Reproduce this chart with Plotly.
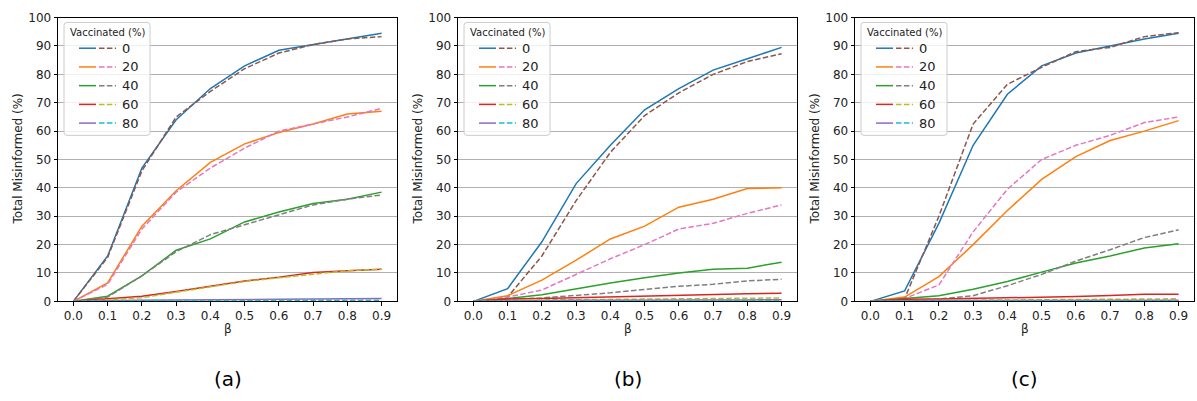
import plotly.graph_objects as go

beta = [0.0, 0.1, 0.2, 0.3, 0.4, 0.5, 0.6, 0.7, 0.8, 0.9]
beta_labels = ["0.0", "0.1", "0.2", "0.3", "0.4", "0.5", "0.6", "0.7", "0.8", "0.9"]
vaccinated = ["0", "20", "40", "60", "80"]
y_ticks = [0, 10, 20, 30, 40, 50, 60, 70, 80, 90, 100]
panel_labels = ["(a)", "(b)", "(c)"]

# Panel (a)
a_solid_0 = [0, 16, 47, 64, 75, 83, 88.5, 90.5, 92.5, 94.5]
a_dash_0 = [0, 15.5, 46, 65, 74, 82, 87.5, 90.5, 92.5, 93.3]
a_solid_20 = [0, 6.5, 26.5, 39, 49, 55.5, 59.5, 62.5, 66, 67]
a_dash_20 = [0, 6, 25.5, 38.5, 47, 54, 60, 62.5, 65, 68]
a_solid_40 = [0, 1.8, 9, 18, 22, 28, 31.5, 34.5, 36, 38.5]
a_dash_40 = [0, 1.5, 9, 17.5, 23.5, 27, 30.5, 34, 36, 37.5]
a_solid_60 = [0, 0.8, 1.8, 3.5, 5.3, 7.2, 8.5, 10.2, 10.8, 11.3]
a_dash_60 = [0, 0.5, 1.3, 3.2, 5, 7, 8.3, 9.5, 10.8, 11.3]
a_solid_80 = [0, 0.3, 0.4, 0.5, 0.5, 0.6, 0.7, 0.8, 0.9, 1.0]
a_dash_80 = [0, 0.2, 0.3, 0.3, 0.3, 0.3, 0.3, 0.3, 0.3, 0.4]

# Panel (b)
b_solid_0 = [0, 4.5, 21, 41.5, 55, 67.5, 75, 81.5, 85.5, 89.5]
b_dash_0 = [0, 1.5, 16, 35.5, 52.5, 65.5, 73.5, 80, 84.5, 87.3]
b_solid_20 = [0, 2, 7.5, 14.5, 22, 26.5, 33.2, 36, 39.8, 40]
b_dash_20 = [0, 1.5, 4, 9.5, 15, 20, 25.5, 27.5, 31, 34]
b_solid_40 = [0, 1, 2.3, 4.5, 6.5, 8.3, 10, 11.3, 11.7, 13.8]
b_dash_40 = [0, 0.8, 1.2, 2, 3, 4.2, 5.3, 6, 7.2, 7.8]
b_solid_60 = [0, 0.8, 1, 1.3, 1.7, 2, 2.3, 2.4, 2.7, 2.9]
b_dash_60 = [0, 0.3, 0.5, 0.6, 0.7, 0.8, 0.9, 1.0, 1.1, 1.2]
b_solid_80 = [0, 0.2, 0.3, 0.4, 0.4, 0.5, 0.5, 0.5, 0.5, 0.6]
b_dash_80 = [0, 0.1, 0.2, 0.2, 0.2, 0.2, 0.2, 0.2, 0.3, 0.3]

# Panel (c)
c_solid_0 = [0, 3.7, 27.5, 55, 73, 83, 87.5, 90, 92.5, 94.5]
c_dash_0 = [0, 1, 30, 62.5, 76.5, 82.5, 88, 89.5, 93.3, 94.7]
c_solid_20 = [0, 1.5, 8.7, 20, 32, 43, 51, 56.7, 60, 63.7]
c_dash_20 = [0, 1, 5.8, 24.5, 39.5, 50, 55, 58.5, 63, 65]
c_solid_40 = [0, 1, 2, 4.3, 7, 10.3, 13.5, 16, 18.8, 20.3]
c_dash_40 = [0, 0.5, 0.8, 2, 5.5, 9.5, 14.2, 18.2, 22.5, 25.2]
c_solid_60 = [0, 0.7, 0.8, 1, 1.3, 1.5, 1.7, 2.1, 2.5, 2.5]
c_dash_60 = [0, 0.3, 0.4, 0.4, 0.5, 0.5, 0.6, 0.7, 0.8, 0.9]
c_solid_80 = [0, 0.2, 0.3, 0.3, 0.3, 0.3, 0.3, 0.4, 0.4, 0.4]
c_dash_80 = [0, 0.1, 0.2, 0.2, 0.2, 0.2, 0.2, 0.2, 0.2, 0.2]

panels = [
    [(a_solid_0, a_dash_0), (a_solid_20, a_dash_20), (a_solid_40, a_dash_40),
     (a_solid_60, a_dash_60), (a_solid_80, a_dash_80)],
    [(b_solid_0, b_dash_0), (b_solid_20, b_dash_20), (b_solid_40, b_dash_40),
     (b_solid_60, b_dash_60), (b_solid_80, b_dash_80)],
    [(c_solid_0, c_dash_0), (c_solid_20, c_dash_20), (c_solid_40, c_dash_40),
     (c_solid_60, c_dash_60), (c_solid_80, c_dash_80)],
]

solid_colors = ["#1f77b4", "#ff7f0e", "#2ca02c", "#d62728", "#9467bd"]
dash_colors = ["#8c564b", "#e377c2", "#7f7f7f", "#bcbd22", "#17becf"]
DASH = "5.5px,2.4px"
FONT = "DejaVu Sans"

W, H = 1197, 401
x_px = [(58, 397), (458, 797), (855, 1194)]
y_top, y_bot = 11, 305

fig = go.Figure()
layout = dict(
    width=W, height=H, margin=dict(l=0, r=0, t=0, b=0),
    paper_bgcolor="white", plot_bgcolor="white", showlegend=False,
    font=dict(family=FONT, size=12, color="black"),
)
shapes = []
annotations = []

for p, series in enumerate(panels):
    sfx = "" if p == 0 else str(p + 1)
    xa, ya = "x" + sfx, "y" + sfx
    for i, (s, d) in enumerate(series):
        fig.add_trace(go.Scatter(x=beta, y=s, mode="lines", xaxis=xa, yaxis=ya,
                                 line=dict(color=solid_colors[i], width=1.5),
                                 name=vaccinated[i]))
        fig.add_trace(go.Scatter(x=beta, y=d, mode="lines", xaxis=xa, yaxis=ya,
                                 line=dict(color=dash_colors[i], width=1.5, dash=DASH),
                                 name=vaccinated[i]))
    x0, x1 = x_px[p]
    layout["xaxis" + sfx] = dict(
        domain=[x0 / W, x1 / W], anchor=ya, range=[-0.045, 0.945],
        tickvals=beta, ticktext=beta_labels, ticks="outside", ticklen=3.5,
        tickwidth=0.8, tickcolor="black", showline=True, linecolor="black",
        linewidth=0.8, mirror=True, showgrid=False, zeroline=False,
        tickfont=dict(size=12, family=FONT, color="#222"),
    )
    layout["yaxis" + sfx] = dict(
        domain=[(H - y_bot) / H, (H - y_top) / H], anchor=xa, range=[0, 100],
        tickvals=y_ticks, ticks="outside", ticklen=3.5, tickwidth=0.8,
        tickcolor="black", showline=True, linecolor="black", linewidth=0.8,
        mirror=True, showgrid=True, gridcolor="#b0b0b0", gridwidth=0.8,
        zeroline=False, tickfont=dict(size=12, family=FONT, color="#222"),
    )
    # axis titles & panel labels
    annotations.append(dict(xref="paper", yref="paper", x=(x0 - 40) / W,
                            y=(H - (y_top + y_bot) / 2) / H, text="Total Misinformed (%)",
                            textangle=-90, showarrow=False, xanchor="center",
                            yanchor="middle", font=dict(size=12, family=FONT, color="#222")))
    annotations.append(dict(xref="paper", yref="paper", x=(x0 + x1) / 2 / W,
                            y=(H - 334) / H, text="β", showarrow=False,
                            xanchor="center", yanchor="middle",
                            font=dict(size=12, family=FONT, color="#222")))
    annotations.append(dict(xref="paper", yref="paper", x=(x0 + x1) / 2 / W - 0.0,
                            y=(H - 385) / H, text=panel_labels[p], showarrow=False,
                            xanchor="center", yanchor="middle",
                            font=dict(size=20, family=FONT, color="black")))

    # legend (drawn in axis-domain coordinates)
    xr, yr = xa + " domain", ya + " domain"
    pw, ph = x1 - x0, y_bot - y_top

    def dx(px):
        return px / pw

    def dy(px):
        return 1 - px / ph

    lx0, lx1, ly0, ly1 = dx(6), dx(92), dy(5), dy(122)
    rx, ry = 3 / pw, 3 / ph
    path = (f"M {lx0 + rx},{ly0} L {lx1 - rx},{ly0} Q {lx1},{ly0} {lx1},{ly0 - ry} "
            f"L {lx1},{ly1 + ry} Q {lx1},{ly1} {lx1 - rx},{ly1} "
            f"L {lx0 + rx},{ly1} Q {lx0},{ly1} {lx0},{ly1 + ry} "
            f"L {lx0},{ly0 - ry} Q {lx0},{ly0} {lx0 + rx},{ly0} Z")
    shapes.append(dict(type="path", path=path, xref=xr, yref=yr,
                       fillcolor="rgba(255,255,255,0.8)",
                       line=dict(color="#cccccc", width=1), layer="above"))
    annotations.append(dict(xref=xr, yref=yr, x=dx(49), y=dy(15), text="Vaccinated (%)",
                            showarrow=False, xanchor="center", yanchor="middle",
                            font=dict(size=10, family=FONT, color="#222")))
    for i in range(5):
        yy = dy(31.7 + 19.4 * i)
        shapes.append(dict(type="line", xref=xr, yref=yr, x0=dx(21), x1=dx(38),
                           y0=yy, y1=yy, line=dict(color=solid_colors[i], width=1.5),
                           layer="above"))
        shapes.append(dict(type="line", xref=xr, yref=yr, x0=dx(41), x1=dx(58),
                           y0=yy, y1=yy,
                           line=dict(color=dash_colors[i], width=1.5, dash=DASH),
                           layer="above"))
        annotations.append(dict(xref=xr, yref=yr, x=dx(62), y=yy, text=vaccinated[i],
                                showarrow=False, xanchor="left", yanchor="middle",
                                font=dict(size=13, family=FONT, color="#222")))

layout["shapes"] = shapes
layout["annotations"] = annotations
fig.update_layout(**layout)
fig.write_html("out.html")
